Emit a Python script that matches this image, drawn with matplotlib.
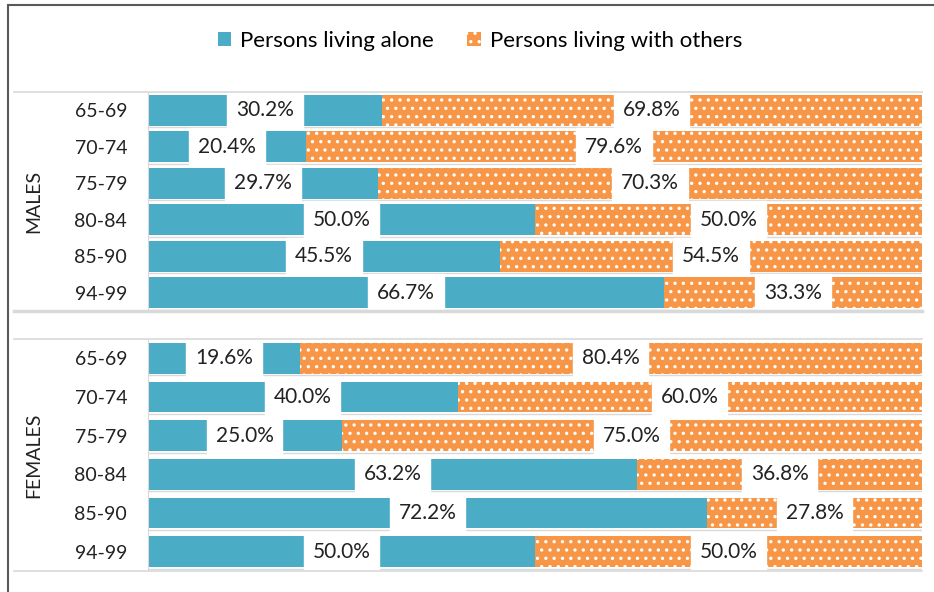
import matplotlib.pyplot as plt
from matplotlib.patches import Patch, Rectangle
from matplotlib.lines import Line2D

plt.rcParams['font.family'] = ['Lato', 'DejaVu Sans']
plt.rcParams['hatch.linewidth'] = 1.2

# ---------------------------------------------------------------
# Data (percent of persons, by age group)
# ---------------------------------------------------------------
ages = ['65-69', '70-74', '75-79', '80-84', '85-90', '94-99']
males_alone = [30.2, 20.4, 29.7, 50.0, 45.5, 66.7]
males_others = [69.8, 79.6, 70.3, 50.0, 54.5, 33.3]
females_alone = [19.6, 40.0, 25.0, 63.2, 72.2, 50.0]
females_others = [80.4, 60.0, 75.0, 36.8, 27.8, 50.0]

teal = '#4BACC6'
orange = '#F79646'
grid_col = '#D9D9D9'

W, H = 934, 592
fig = plt.figure(figsize=(W / 100, H / 100), dpi=100)


def px(x0, y0, x1, y1):
    # pixel box -> figure fraction [left, bottom, width, height]
    return [x0 / W, 1 - y1 / H, (x1 - x0) / W, (y1 - y0) / H]


def draw_panel(rect, alone, others, group, bar_h):
    ax = fig.add_axes(rect)
    y = list(range(len(ages)))
    ax.barh(y, alone, height=bar_h, color=teal, zorder=2)
    ax.barh(y, others, left=alone, height=bar_h, color=orange,
            edgecolor='white', linewidth=0, hatch='..', zorder=2)
    box = dict(boxstyle='square,pad=0.42', fc='white', ec='white', lw=1)
    for i in y:
        ax.text(alone[i] / 2, i, f'{alone[i]:.1f}%', ha='center', va='center',
                fontsize=15, color='#222222', zorder=4, bbox=box)
        ax.text(alone[i] + others[i] / 2, i, f'{others[i]:.1f}%', ha='center',
                va='center', fontsize=15, color='#222222', zorder=4, bbox=box)
        # thin light line under each bar
        ax.axhline(i + bar_h / 2 + 0.04, color=grid_col, lw=1, zorder=1)
    ax.set_xlim(0, 100)
    ax.set_ylim(len(ages) - 0.5, -0.5)
    ax.set_yticks(y)
    ax.set_yticklabels(ages, fontsize=14, color='#222222')
    ax.tick_params(axis='y', length=0, pad=15)
    ax.set_xticks([])
    for s in ['top', 'right', 'bottom']:
        ax.spines[s].set_visible(False)
    ax.spines['left'].set_color(grid_col)
    ax.set_ylabel(group, fontsize=14, color='#222222')
    ax.yaxis.set_label_coords(-106 / 774, 0.5)
    return ax


draw_panel(px(148, 92, 922, 311), males_alone, males_others, 'MALES', 0.84)
draw_panel(px(148, 339, 922, 571), females_alone, females_others, 'FEMALES', 0.8)

# separator lines reaching into the label column
for yy, lw in [(92, 1.2), (311, 2.5), (339, 1.2), (571, 1.2)]:
    fig.add_artist(Line2D([14 / W, 922 / W], [1 - yy / H, 1 - yy / H],
                          color=grid_col, lw=lw))

# outer frame (left and top edge visible)
fig.add_artist(Rectangle((8 / W, -0.1), 1.2, 1 - 5 / H + 0.1,
                         transform=fig.transFigure, fill=False,
                         ec='#595959', lw=1.5))

handles = [Patch(facecolor=teal, label='Persons living alone'),
           Patch(facecolor=orange, edgecolor='white', linewidth=0, hatch='..',
                 label='Persons living with others')]
fig.legend(handles=handles, loc='center', bbox_to_anchor=(480 / W, 1 - 41 / H),
           ncol=2, frameon=False, fontsize=16, handlelength=0.6,
           handleheight=0.6, handletextpad=0.4, columnspacing=1.5)

fig.savefig('out.png', dpi=100)
